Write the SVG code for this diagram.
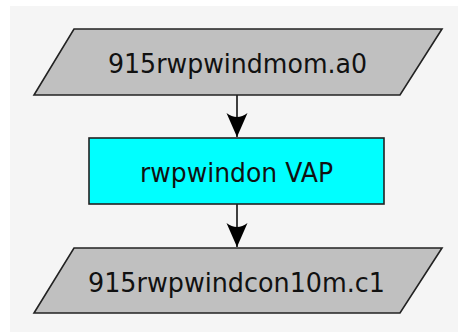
<svg xmlns="http://www.w3.org/2000/svg" width="459" height="332" viewBox="0 0 459 332">
<style>
.io{fill:#c0c0c0;stroke:#222;stroke-width:1.6}
.proc{fill:#00ffff;stroke:#222;stroke-width:1.6}
.lbl{font-family:"DejaVu Sans",sans-serif;font-size:26px;fill:#111;text-anchor:middle}
.edge{stroke:#111;stroke-width:1.6;fill:none}
</style>
<defs>
<marker id="ah" markerUnits="userSpaceOnUse" markerWidth="24" markerHeight="24" viewBox="0 0 24 24" refX="24" refY="12" orient="auto">
<path d="M0,1.5 L24,12 L0,22.5 Q8,12 0,1.5 Z" fill="#000"/>
</marker>
</defs>
<rect x="10" y="6" width="448" height="326" fill="#f5f5f5"/>
<g id="connectors">
<line class="edge" x1="237" y1="95" x2="237" y2="137" marker-end="url(#ah)"/>
<line class="edge" x1="237" y1="204" x2="237" y2="247" marker-end="url(#ah)"/>
</g>
<g id="n1">
<polygon class="io" points="74,29 442,29 400,95 34,95"/>
<text class="lbl" x="237.5" y="72.5" textLength="259" lengthAdjust="spacingAndGlyphs">915rwpwindmom.a0</text>
</g>
<g id="n2">
<rect class="proc" x="89" y="138" width="295" height="66"/>
<text class="lbl" x="236.5" y="182" textLength="193" lengthAdjust="spacingAndGlyphs">rwpwindon VAP</text>
</g>
<g id="n3">
<polygon class="io" points="74,248 442,248 400,313 34,313"/>
<text class="lbl" x="236.5" y="292" textLength="297" lengthAdjust="spacingAndGlyphs">915rwpwindcon10m.c1</text>
</g>
</svg>
